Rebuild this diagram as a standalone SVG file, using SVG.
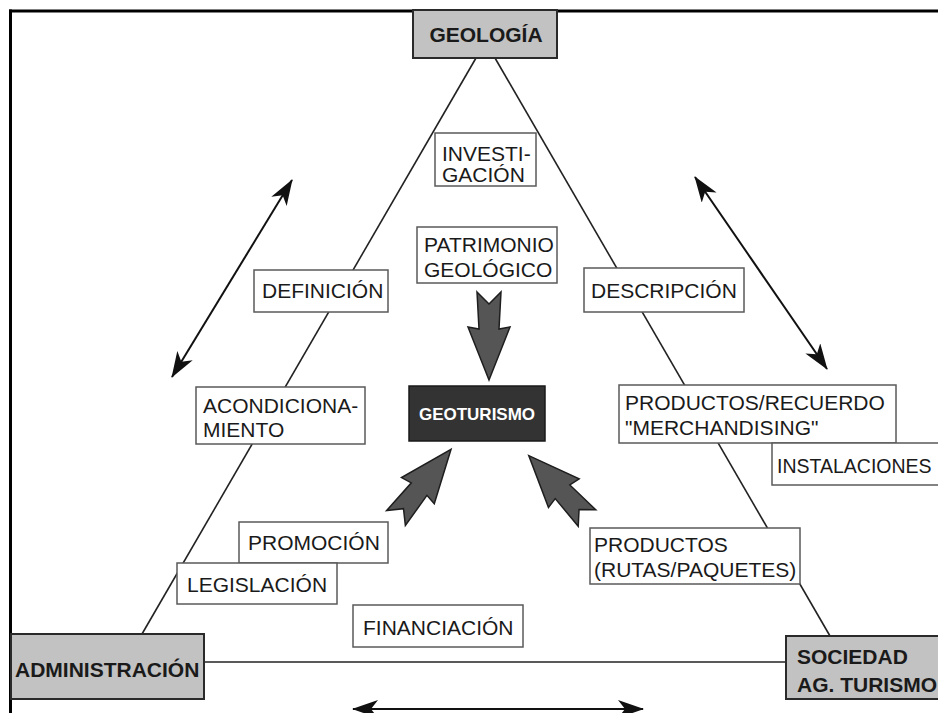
<svg xmlns="http://www.w3.org/2000/svg" width="938" height="713" viewBox="0 0 938 713">
<style>
text{font-family:"Liberation Sans",Arial,sans-serif;fill:#1a1a1a}
.lbl{font-size:21px}
.hd{font-size:21px;font-weight:bold}
.box{fill:#fff;stroke:#5a5a5a;stroke-width:1.5}
.main{fill:#c2c2c2;stroke:#2a2a2a;stroke-width:2}
.ln{stroke:#222;stroke-width:1.6;fill:none}
.dbl{stroke:#111;stroke-width:2;fill:none}
.fat{fill:#555;stroke:#1e1e1e;stroke-width:1.5;stroke-linejoin:miter}
</style>
<defs>
<marker id="ah" viewBox="0 0 26 18" refX="25" refY="9" markerWidth="26" markerHeight="18" markerUnits="userSpaceOnUse" orient="auto-start-reverse">
<path d="M0,0 L26,9 L0,18 L7,9 z" fill="#111"/>
</marker>
<path id="fatarrow" d="M-12,0 L0,12 L12,0 L10,37 L21,35 L0,88 L-21,35 L-10,37 z"/>
</defs>
<rect width="938" height="713" fill="#fff"/>
<g id="frame">
<line x1="9" y1="11" x2="938" y2="11" stroke="#000" stroke-width="3"/>
<line x1="10.5" y1="9.5" x2="10.5" y2="713" stroke="#000" stroke-width="3"/>
</g>
<g id="connectors">
<line class="ln" x1="476" y1="58" x2="142" y2="634"/>
<line class="ln" x1="495" y1="58" x2="830" y2="636"/>
<line class="ln" x1="204" y1="662" x2="786" y2="662"/>
<line class="dbl" x1="292" y1="180" x2="172" y2="377" marker-start="url(#ah)" marker-end="url(#ah)"/>
<line class="dbl" x1="695" y1="177" x2="827" y2="369" marker-start="url(#ah)" marker-end="url(#ah)"/>
<line class="dbl" x1="353" y1="709" x2="643" y2="709" marker-start="url(#ah)" marker-end="url(#ah)"/>
<use href="#fatarrow" class="fat" transform="translate(489,292)"/>
<use href="#fatarrow" class="fat" transform="translate(396,518) rotate(-141.3)"/>
<use href="#fatarrow" class="fat" transform="translate(587,518) rotate(137) scale(1,0.97)"/>
</g>
<g id="geologia">
<rect class="main" x="413" y="10" width="144" height="48"/>
<text class="hd" x="486" y="42" text-anchor="middle">GEOLOGÍA</text>
</g>
<g id="administracion">
<rect class="main" x="11" y="634" width="193" height="65"/>
<text class="hd" x="15" y="677">ADMINISTRACIÓN</text>
</g>
<g id="sociedad">
<rect class="main" x="786" y="636" width="160" height="63"/>
<text class="hd" x="797" y="664">SOCIEDAD</text>
<text class="hd" x="797" y="692">AG. TURISMO</text>
</g>
<g id="geoturismo">
<rect x="409" y="386" width="136" height="55" fill="#333" stroke="#1a1a1a" stroke-width="1.5"/>
<text x="477" y="420" text-anchor="middle" style="font-size:17px;font-weight:bold;fill:#fff">GEOTURISMO</text>
</g>
<g id="investigacion">
<rect class="box" x="435" y="133" width="101" height="53"/>
<text class="lbl" x="442" y="161">INVESTI-</text>
<text class="lbl" x="442" y="182">GACIÓN</text>
</g>
<g id="patrimonio">
<rect class="box" x="417" y="227" width="140" height="56"/>
<text class="lbl" x="424" y="252">PATRIMONIO</text>
<text class="lbl" x="424" y="277">GEOLÓGICO</text>
</g>
<g id="definicion">
<rect class="box" x="254" y="270" width="134" height="42"/>
<text class="lbl" x="262" y="298">DEFINICIÓN</text>
</g>
<g id="descripcion">
<rect class="box" x="584" y="268" width="160" height="44"/>
<text class="lbl" x="591" y="298">DESCRIPCIÓN</text>
</g>
<g id="acondicionamiento">
<rect class="box" x="196" y="387" width="169" height="57"/>
<text class="lbl" x="203" y="413">ACONDICIONA-</text>
<text class="lbl" x="203" y="437">MIENTO</text>
</g>
<g id="productos-recuerdo">
<rect class="box" x="619" y="385" width="277" height="58"/>
<text class="lbl" x="625" y="410">PRODUCTOS/RECUERDO</text>
<text class="lbl" x="625" y="435">"MERCHANDISING"</text>
</g>
<g id="instalaciones">
<rect class="box" x="772" y="443" width="180" height="42"/>
<text x="777" y="473" style="font-size:19.5px">INSTALACIONES</text>
</g>
<g id="productos-rutas">
<rect class="box" x="590" y="528" width="210" height="56"/>
<text class="lbl" x="594" y="552">PRODUCTOS</text>
<text class="lbl" x="594" y="577">(RUTAS/PAQUETES)</text>
</g>
<g id="promocion">
<rect class="box" x="239" y="522" width="149" height="41"/>
<text class="lbl" x="248" y="550">PROMOCIÓN</text>
</g>
<g id="legislacion">
<rect class="box" x="177" y="563" width="160" height="41"/>
<text class="lbl" x="187" y="592">LEGISLACIÓN</text>
</g>
<g id="financiacion">
<rect class="box" x="353" y="605" width="170" height="42"/>
<text class="lbl" x="363" y="635">FINANCIACIÓN</text>
</g>
</svg>
